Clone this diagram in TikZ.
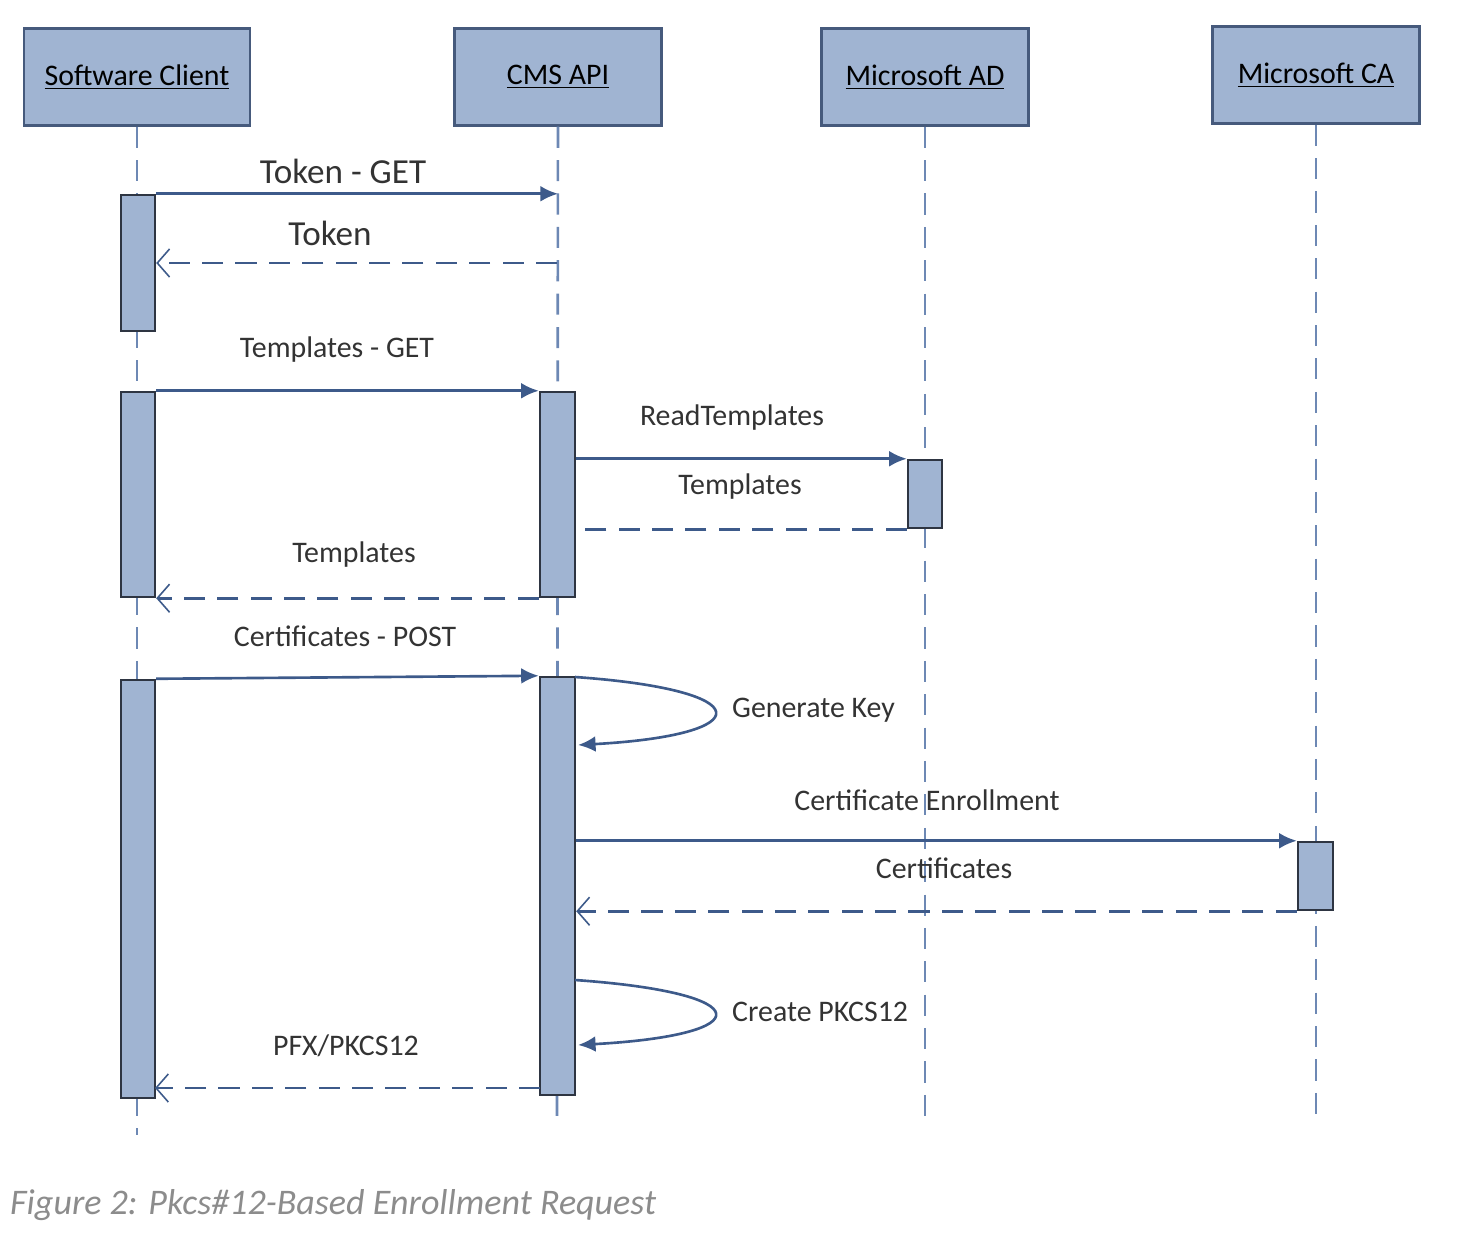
\documentclass[tikz,border=0pt]{standalone}
\usepackage{fontspec}
\setmainfont{Carlito}
\usetikzlibrary{arrows.meta,fit}
\definecolor{boxfill}{HTML}{A0B4D2}
\definecolor{boxline}{HTML}{465A7C}
\definecolor{barline}{HTML}{2E3542}
\definecolor{msgline}{HTML}{3D5A8A}
\definecolor{lifeline}{HTML}{6D88B4}
\definecolor{captext}{HTML}{8C8C8C}
\tikzset{
  head/.style={draw=boxline, fill=boxfill, line width=1.4pt, minimum width=4.14cm, minimum height=1.94cm, font=\fontsize{17}{20}\selectfont},
  bar/.style={draw=barline, fill=boxfill, line width=1.4pt, inner sep=0pt},
  life/.style={draw=lifeline, line width=1.5pt, dash pattern=on 12pt off 7pt},
  call/.style={draw=msgline, line width=1.5pt, -{Latex[length=10pt,width=9pt]}},
  reply/.style={draw=msgline, line width=1.5pt, dash pattern=on 12pt off 7pt, -{Straight Barb[length=7pt,width=16pt,line width=0.9pt]}},
  back/.style={draw=msgline, line width=1.5pt, dash pattern=on 12pt off 7pt},
  lbl/.style={font=\fontsize{17}{20}\selectfont, text=black!80},
}
\begin{document}
\begin{tikzpicture}[x=0.02cm, y=-0.02cm]
\useasboundingbox (0,0) rectangle (1460,1240);
\node(sc)  [head, minimum width=4.52cm] at (137,77)  {\underline{Software Client}};
\node(cms) [head] at (558,77)  {\underline{CMS API}};
\node(ad)  [head] at (925,77)  {\underline{Microsoft AD}};
\node(ca)  [head] at (1316,75) {\underline{Microsoft CA}};

\coordinate(scEnd)  at (137,1135);
\coordinate(cmsEnd) at (557,1122);
\coordinate(adEnd)  at (925,1122);
\coordinate(caEnd)  at (1316,1122);
\draw[life] (sc)  -- (scEnd);
\draw[life] (cms) -- (cmsEnd);
\draw[life] (ad)  -- (adEnd);
\draw[life] (ca)  -- (caEnd);

\node(sc1)  [bar, fit={(121,195) (155,331)}]   {};
\node(sc2)  [bar, fit={(121,392) (155,597)}]   {};
\node(sc3)  [bar, fit={(121,680) (155,1098)}]  {};
\node(cms1) [bar, fit={(540,392) (575,597)}]   {};
\node(cms2) [bar, fit={(540,677) (575,1095)}]  {};
\node(ad1)  [bar, fit={(908,460) (942,528)}]   {};
\node(ca1)  [bar, fit={(1298,842) (1333,910)}] {};

\coordinate(tokGet) at (sc1.north east -| cms);
\coordinate(tokRet) at (557,263);
\coordinate(genOut) at (575,677);
\coordinate(genIn)  at (578,745);
\coordinate(pkOut)  at (575,980);
\coordinate(pkIn)   at (578,1045);

\draw[call]  (sc1.north east)  -- (tokGet);
\draw[reply] (tokRet)          -- (tokRet -| sc1.east);
\draw[call]  (sc2.north east)  -- (cms1.north west);
\draw[call]  (ad1.north west -| cms1.east) -- (ad1.north west);
\draw[back]  (ad1.south west)  -- (ad1.south west -| cms1.east);
\draw[reply] (cms1.south west) -- (sc2.south east);
\draw[call]  (sc3.north east)  -- (cms2.north west);
\draw[call]  (genOut) .. controls (760,690) and (760,735) .. (genIn);
\draw[call]  (ca1.north west -| cms2.east) -- (ca1.north west);
\draw[reply] (ca1.south west)  -- (ca1.south west -| cms2.east);
\draw[call]  (pkOut) .. controls (760,993) and (760,1035) .. (pkIn);
\draw[reply] (540,1088)        -- (155,1088);

\node(lTokGet) [lbl, font=\fontsize{20}{24}\selectfont] at (343,171) {Token - GET};
\node(lTok)    [lbl, font=\fontsize{20}{24}\selectfont] at (330,233) {Token};
\node(lTplGet) [lbl] at (337,350)  {Templates - GET};
\node(lRead)   [lbl] at (732,418)  {ReadTemplates};
\node(lTplAd)  [lbl] at (740,487)  {Templates};
\node(lTpl)    [lbl] at (354,555)  {Templates};
\node(lPost)   [lbl] at (345,636)  {Certificates - POST};
\node(lGen)    [lbl, anchor=west] at (726,710)  {Generate Key};
\node(lEnr)    [lbl] at (927,800)  {Certificate Enrollment};
\node(lCerts)  [lbl] at (944,868)  {Certificates};
\node(lPk)     [lbl, anchor=west] at (726,1012) {Create PKCS12};
\node(lPfx)    [lbl] at (346,1046) {PFX/PKCS12};

\node(cap) [anchor=west, text=captext, font=\itshape\fontsize{20.5}{24}\selectfont] at (4,1205) {Figure 2: Pkcs\#12-Based Enrollment Request};
\end{tikzpicture}
\end{document}
